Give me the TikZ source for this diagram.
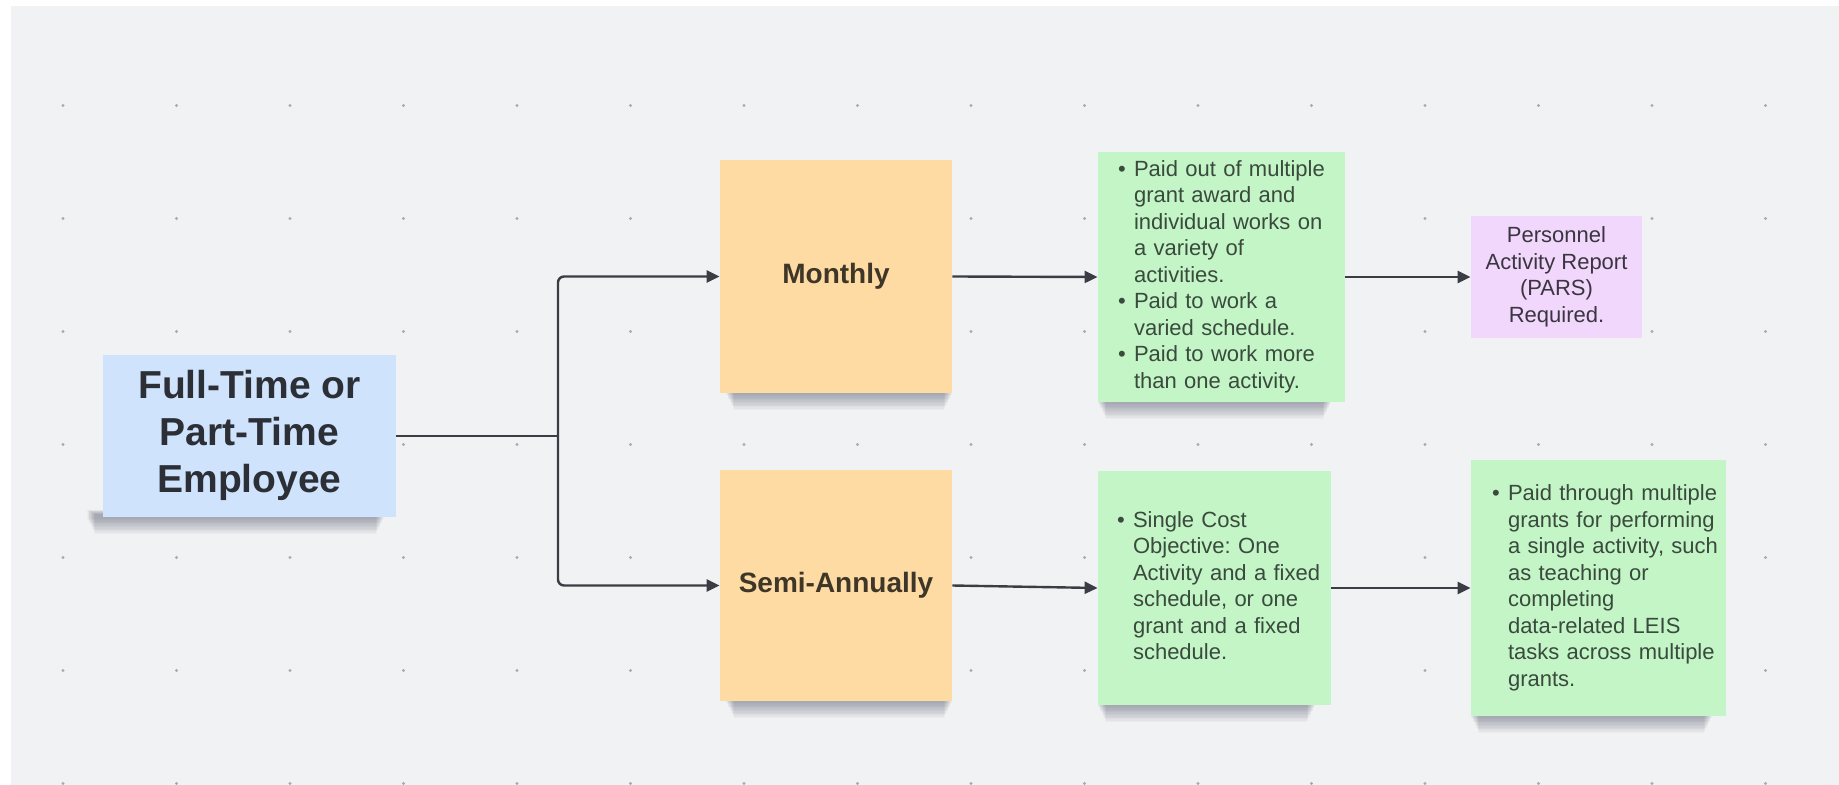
\documentclass[tikz,border=0pt]{standalone}
\usepackage{fontspec}
\setmainfont{Liberation Sans}
\usetikzlibrary{arrows.meta}

\definecolor{canvas}{HTML}{F1F2F4}
\definecolor{dotgray}{HTML}{A6AAB1}
\definecolor{blueNote}{HTML}{CFE3FD}
\definecolor{orangeNote}{HTML}{FEDBA3}
\definecolor{greenNote}{HTML}{C3F5C6}
\definecolor{pinkNote}{HTML}{F1D7FB}
\definecolor{inkDark}{HTML}{2C2F36}
\definecolor{inkBrown}{HTML}{3E3628}
\definecolor{inkGreen}{HTML}{3A4A3D}
\definecolor{inkPink}{HTML}{3A3540}
\definecolor{lineGray}{HTML}{3A3D44}
\definecolor{shadowTone}{HTML}{2A2F48}

\pgfdeclarelayer{canvaslayer}
\pgfdeclarelayer{shadowlayer}
\pgfsetlayers{canvaslayer,shadowlayer,main}

% bullet marker of fixed width for the list notes
\newcommand{\bulletmark}{\makebox[8pt][l]{\textbullet}}

% soft shadow under the lower edge of a note, built from stacked
% translucent strips: #1 node, #2 left offset, #3 right offset
\newcommand{\noteshadow}[3]{%
  \begin{pgfonlayer}{shadowlayer}
    \foreach \k in {1,...,12}{
      \fill[shadowTone, opacity=0.034]
        ([xshift=#2+\k*0.35pt, yshift=4pt-\k*0.2pt]#1.south west)
        rectangle ([xshift=-#3-\k*0.35pt, yshift=-\k*0.7pt]#1.south east);
    }
  \end{pgfonlayer}}

\tikzset{
  note/.style={rectangle, inner sep=0pt},
  periodnote/.style={note, fill=orangeNote, text=inkBrown,
    font=\fontsize{14pt}{16pt}\selectfont\bfseries, minimum width=116pt},
  listnote/.style={note, fill=greenNote, text=inkGreen, align=left,
    font=\fontsize{11pt}{13.25pt}\selectfont\frenchspacing},
  link/.style={draw=lineGray, line width=1.2pt},
  arrowlink/.style={link, -{Triangle[length=6.5pt,width=6pt]}},
}

\begin{document}
\begin{tikzpicture}[x=0.5pt,y=-0.5pt]
  % canvas with dot grid
  \useasboundingbox (0,0) rectangle (1839,785);
  \begin{pgfonlayer}{canvaslayer}
    \fill[white] (0,0) rectangle (1839,785);
    \fill[canvas] (11,6) rectangle (1839,785);
    \foreach \i in {0,...,15}{
      \foreach \j in {0,...,6}{
        \fill[dotgray] ({63+113.5*\i},{105.5+113*\j}) circle[radius=0.8pt];
      }
    }
  \end{pgfonlayer}

  % employee note
  \node[note, fill=blueNote, text=inkDark,
        minimum width=146.5pt, minimum height=81pt,
        font=\fontsize{19.5pt}{23.5pt}\selectfont\bfseries]
    (emp) at (249.5,436)
    {\begin{tabular}{@{}c@{}}Full-Time or\\Part-Time\\Employee\end{tabular}};

  % pay period notes
  \node[periodnote, minimum height=116.5pt] (monthly) at (836,276.5) {Monthly};
  \node[periodnote, minimum height=115.5pt] (semi) at (836,585.5) {Semi-Annually};

  % description notes
  \node[listnote, text width=123.5pt, minimum height=125pt] (multi) at (1221.5,277)
    {\noindent\hspace*{10pt}\begin{tabular}{@{}l@{}l@{}}
      \bulletmark & Paid out of multiple\\
                  & grant award and\\
                  & individual works on\\
                  & a variety of\\
                  & activities.\\
      \bulletmark & Paid to work a\\
                  & varied schedule.\\
      \bulletmark & Paid to work more\\
                  & than one activity.
    \end{tabular}};

  \node[note, fill=pinkNote, text=inkPink, minimum width=85.5pt, minimum height=61pt,
        font=\fontsize{11pt}{13.25pt}\selectfont] (pars) at (1556.5,277)
    {\begin{tabular}{@{}c@{}}Personnel\\Activity Report\\(PARS)\\Required.\end{tabular}};

  \node[listnote, text width=116.5pt, minimum height=117pt] (single) at (1214.5,588)
    {\noindent\hspace*{9.5pt}\begin{tabular}{@{}l@{}l@{}}
      \bulletmark & Single Cost\\
                  & Objective: One\\
                  & Activity and a fixed\\
                  & schedule, or one\\
                  & grant and a fixed\\
                  & schedule.
    \end{tabular}};

  \node[listnote, text width=127.5pt, minimum height=128pt] (through) at (1598.5,588)
    {\noindent\hspace*{10.5pt}\begin{tabular}{@{}l@{}l@{}}
      \bulletmark & Paid through multiple\\
                  & grants for performing\\
                  & a single activity, such\\
                  & as teaching or\\
                  & completing\\
                  & data-related LEIS\\
                  & tasks across multiple\\
                  & grants.
    \end{tabular}};

  % shadows beneath the notes
  \noteshadow{emp}{-8pt}{6pt}
  \noteshadow{monthly}{3pt}{0pt}
  \noteshadow{semi}{3pt}{0pt}
  \noteshadow{multi}{0pt}{7pt}
  \noteshadow{single}{0pt}{8pt}
  \noteshadow{through}{0pt}{7pt}

  % connectors
  \coordinate (split) at (558,436);
  \draw[link] (emp.east) -- (split);
  \draw[arrowlink, rounded corners=3pt] (split) |- (monthly.west);
  \draw[arrowlink, rounded corners=3pt] (split) |- (semi.west);
  \draw[arrowlink] (monthly.east) -- (multi.west);
  \draw[arrowlink] (multi.east) -- (pars.west);
  \draw[arrowlink] (semi.east) -- (single.west);
  \draw[arrowlink] (single.east) -- (through.west);
\end{tikzpicture}
\end{document}
